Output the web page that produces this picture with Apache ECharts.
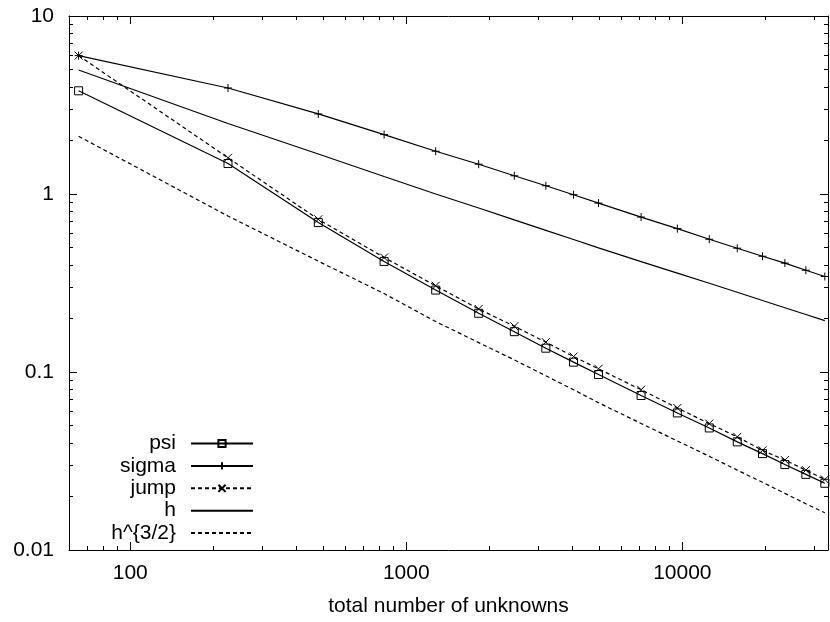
<!DOCTYPE html>
<html>
<head>
<meta charset="utf-8">
<script src="https://cdn.jsdelivr.net/npm/echarts/dist/echarts.min.js"></script>
<style>
  html, body { margin: 0; padding: 0; background: #fff; }
  #chart { width: 830px; height: 622px; }
</style>
</head>
<body>
<div id="chart"></div>
<script>
// ---- data ----
const unknowns = [65, 226, 480, 831, 1278, 1829, 2462, 3203, 4035, 4969, 7089, 9592, 12519, 15810, 19516, 23520, 28020, 32820];
const psi   = [3.80, 1.483, 0.691, 0.418, 0.2886, 0.2137, 0.1685, 0.1361, 0.1136, 0.0968, 0.0738, 0.0589, 0.0485, 0.0405, 0.0348, 0.0302, 0.0266, 0.0237];
const sigma = [5.99, 3.94, 2.817, 2.157, 1.739, 1.470, 1.266, 1.113, 0.991, 0.889, 0.742, 0.639, 0.557, 0.496, 0.447, 0.409, 0.373, 0.344];
const jump  = [5.99, 1.597, 0.721, 0.440, 0.305, 0.226, 0.1807, 0.1471, 0.1221, 0.1042, 0.0795, 0.0628, 0.0513, 0.0432, 0.0363, 0.0320, 0.0281, 0.0249];
const h     = [4.97, 2.49, 1.677, 1.254, 1.00, 0.834, 0.715, 0.625, 0.555, 0.498, 0.417, 0.359, 0.315, 0.2805, 0.252, 0.2297, 0.2103, 0.1942];
const h32   = [2.110, 0.752, 0.4195, 0.2758, 0.1920, 0.1463, 0.1170, 0.0952, 0.0795, 0.0672, 0.0514, 0.0410, 0.0336, 0.0281, 0.0240, 0.0208, 0.0182, 0.0162];

const seriesNames = ['psi', 'sigma', 'jump', 'h', 'h^{3/2}'];
const xMajorTicks = [100, 1000, 10000];
const xMinorTicks = [70, 80, 90, 200, 300, 400, 500, 600, 700, 800, 900,
                     2000, 3000, 4000, 5000, 6000, 7000, 8000, 9000, 20000, 30000];
const yMajorTicks = [0.01, 0.1, 1, 10];
const yMinorTicks = [0.02, 0.03, 0.04, 0.05, 0.06, 0.07, 0.08, 0.09,
                     0.2, 0.3, 0.4, 0.5, 0.6, 0.7, 0.8, 0.9,
                     2, 3, 4, 5, 6, 7, 8, 9];
const xTitle = 'total number of unknowns';
const X_MIN = 60, X_MAX = 33700, Y_MIN = 0.01, Y_MAX = 10;

// ---- chart ----
const FONT = '"Liberation Sans", Arial, Helvetica, sans-serif';
const FS = 21;
const BLACK = '#000';
const LW = 1.2;
const pair = (ys) => unknowns.map((x, i) => [x, ys[i]]);

function xAxisDef(pos, major, withLabel) {
  return {
    type: 'log', logBase: 10, min: X_MIN, max: X_MAX, position: pos,
    axisLine: { show: major, lineStyle: { color: BLACK, width: 1 } },
    axisTick: { show: true, inside: true, length: major ? 8 : 4,
                customValues: major ? xMajorTicks : xMinorTicks,
                lineStyle: { color: BLACK, width: 1 } },
    axisLabel: { show: withLabel, customValues: xMajorTicks, margin: 13,
                 color: BLACK, fontSize: FS, fontFamily: FONT,
                 formatter: (v) => String(Math.round(v)) },
    splitLine: { show: false },
    name: withLabel ? xTitle : '', nameLocation: 'middle', nameGap: 46,
    nameTextStyle: { color: BLACK, fontSize: FS, fontFamily: FONT }
  };
}
function yAxisDef(pos, major, withLabel) {
  return {
    type: 'log', logBase: 10, min: Y_MIN, max: Y_MAX, position: pos,
    axisLine: { show: major, lineStyle: { color: BLACK, width: 1 } },
    axisTick: { show: true, inside: true, length: major ? 8 : 4,
                customValues: major ? yMajorTicks : yMinorTicks,
                lineStyle: { color: BLACK, width: 1 } },
    axisLabel: { show: withLabel, customValues: yMajorTicks, margin: 15,
                 color: BLACK, fontSize: FS, fontFamily: FONT,
                 formatter: (v) => String(Number(v.toPrecision(6))) },
    splitLine: { show: false }
  };
}

const markStyle = { color: 'transparent', borderColor: BLACK, borderWidth: 1 };
const noMark = { color: 'transparent', borderColor: 'transparent', borderWidth: 0 };

const option = {
  animation: false,
  backgroundColor: '#fff',
  grid: { left: 69, right: 2, top: 16, bottom: 70, containLabel: false },
  xAxis: [
    xAxisDef('bottom', true, true),
    xAxisDef('bottom', false, false),
    xAxisDef('top', true, false),
    xAxisDef('top', false, false)
  ],
  yAxis: [
    yAxisDef('left', true, true),
    yAxisDef('left', false, false),
    yAxisDef('right', true, false),
    yAxisDef('right', false, false)
  ],
  legend: {
    data: seriesNames,
    orient: 'vertical', align: 'right',
    right: 576, top: 433, padding: 0,
    itemWidth: 62, itemHeight: 9, itemGap: 1.4,
    selectedMode: false,
    textStyle: { color: BLACK, fontSize: FS, fontFamily: FONT, padding: [0, 10, 0, 0] }
  },
  series: [
    { name: seriesNames[0], type: 'line', data: pair(psi),
      symbol: 'rect', symbolSize: 8, itemStyle: markStyle,
      lineStyle: { color: BLACK, width: LW } },
    { name: seriesNames[1], type: 'line', data: pair(sigma),
      symbol: 'path://M5,0L5,10M0,5L10,5', symbolSize: 8, itemStyle: markStyle,
      lineStyle: { color: BLACK, width: LW } },
    { name: seriesNames[2], type: 'line', data: pair(jump),
      symbol: 'path://M0,0L10,10M10,0L0,10', symbolSize: 8, itemStyle: markStyle,
      lineStyle: { color: BLACK, width: LW, type: [4, 3] } },
    { name: seriesNames[3], type: 'line', data: pair(h),
      symbol: 'none', showSymbol: false, itemStyle: noMark,
      lineStyle: { color: BLACK, width: LW } },
    { name: seriesNames[4], type: 'line', data: pair(h32),
      symbol: 'none', showSymbol: false, itemStyle: noMark,
      lineStyle: { color: BLACK, width: LW, type: [4, 3] } }
  ]
};

const chart = echarts.init(document.getElementById('chart'), null, { renderer: 'canvas' });
chart.setOption(option);
</script>
</body>
</html>
